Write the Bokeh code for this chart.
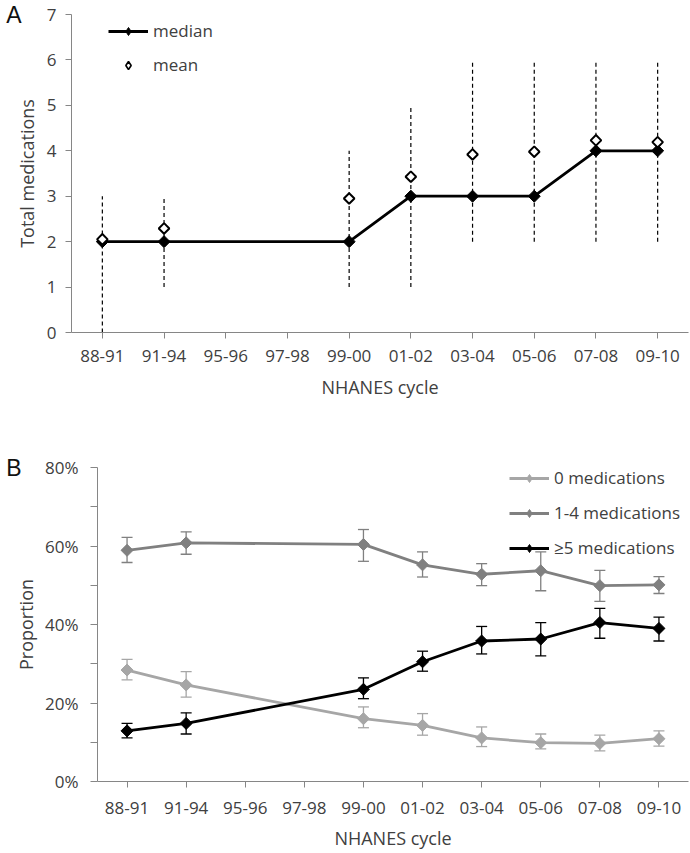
from bokeh.plotting import figure
from bokeh.models import (Range1d, FactorRange, FixedTicker, PrintfTickFormatter, Legend,
                          LegendItem, LinearAxis, Whisker, TeeHead, ColumnDataSource)
from bokeh.layouts import column
from bokeh.embed import file_html
from bokeh.resources import INLINE
import math

# ---------------- data ----------------
cycles = ["88-91", "91-94", "95-96", "97-98", "99-00", "01-02", "03-04", "05-06", "07-08", "09-10"]
data_cycles = ["88-91", "91-94", "99-00", "01-02", "03-04", "05-06", "07-08", "09-10"]

# Panel A: total medications
median_meds = [2, 2, 2, 3, 3, 3, 4, 4]
mean_meds = [2.05, 2.29, 2.95, 3.43, 3.92, 3.98, 4.23, 4.19]
iqr_low = [0, 1, 1, 1, 2, 2, 2, 2]
iqr_high = [3, 3, 4, 5, 6, 6, 6, 6]
a_yticks = [0, 1, 2, 3, 4, 5, 6, 7]

# Panel B: proportions (%)
zero_med = [28.4, 24.6, 16.0, 14.3, 11.1, 9.9, 9.7, 10.9]
zero_lo = [25.9, 21.5, 13.7, 11.8, 8.9, 8.3, 7.8, 9.0]
zero_hi = [31.1, 28.0, 19.0, 17.3, 13.9, 12.1, 11.8, 12.9]
mid_med = [58.9, 60.8, 60.4, 55.2, 52.8, 53.7, 49.9, 50.1]
mid_lo = [55.8, 57.9, 56.1, 52.1, 49.9, 48.6, 45.9, 47.9]
mid_hi = [62.2, 63.6, 64.2, 58.5, 55.5, 58.5, 53.8, 52.2]
five_med = [12.9, 14.8, 23.5, 30.5, 35.8, 36.3, 40.5, 39.0]
five_lo = [11.1, 12.1, 21.1, 28.1, 32.5, 32.0, 36.5, 35.8]
five_hi = [14.8, 17.5, 26.4, 33.2, 39.5, 40.5, 44.1, 41.9]
b_major = [0, 20, 40, 60, 80]
b_minor = [10, 30, 50, 70]

series_b = [
    ("0 medications", zero_med, zero_lo, zero_hi, "#a6a6a6"),
    ("1-4 medications", mid_med, mid_lo, mid_hi, "#808080"),
    ("\u22655 medications", five_med, five_lo, five_hi, "#000000"),
]

FONT = "Open Sans"
TXT = "#404040"
AX = "#868686"
ROT = math.pi / 4


def style_axes(p, ylab_standoff, ytick_standoff, xtick_standoff, xlab_standoff):
    for ax in (p.xaxis[0], p.yaxis[0]):
        ax.axis_line_color = AX
        ax.major_tick_line_color = AX
        ax.minor_tick_line_color = AX
        ax.major_tick_in = 0
        ax.major_tick_out = 6
        ax.minor_tick_in = 0
        ax.minor_tick_out = 6
        ax.major_label_text_font = FONT
        ax.major_label_text_font_size = "17px"
        ax.major_label_text_color = TXT
        ax.axis_label_text_font = FONT
        ax.axis_label_text_font_size = "18px"
        ax.axis_label_text_font_style = "normal"
        ax.axis_label_text_color = TXT
    p.xgrid.visible = False
    p.ygrid.visible = False
    p.outline_line_color = None
    p.xaxis.major_label_standoff = xtick_standoff
    p.xaxis.axis_label_standoff = xlab_standoff
    p.yaxis[0].major_label_standoff = ytick_standoff
    p.yaxis[0].axis_label_standoff = ylab_standoff
    if "frame_align" in p.properties():
        p.frame_align = False


def letter_axis(p, tick, letter, standoff):
    ax = LinearAxis(ticker=FixedTicker(ticks=[tick]), major_label_overrides={tick: letter},
                    axis_line_color=None, major_tick_line_color=None, minor_tick_line_color=None,
                    major_tick_in=0, major_tick_out=0, major_label_standoff=standoff,
                    major_label_text_font="Liberation Sans", major_label_text_font_size="23px",
                    major_label_text_color="#111111")
    p.add_layout(ax, "left")


def make_legend(items, loc, spacing):
    return Legend(items=items, location=loc, glyph_width=40, glyph_height=20, label_standoff=5,
                  spacing=spacing, padding=0, margin=0, border_line_color=None,
                  background_fill_alpha=0, inactive_fill_alpha=0,
                  label_text_font=FONT, label_text_font_size="17px", label_text_color=TXT)


def legend_key(p, x, y, **kw):
    # a diamond marker used only as the legend key (muted, so nothing is drawn in the plot)
    r = p.scatter(x=x, y=y, marker="diamond", muted_alpha=0, **kw)
    r.muted = True
    return r


# ---------------- Panel A ----------------
pA = figure(width=690, height=410, output_backend="svg", toolbar_location=None,
            x_range=FactorRange(factors=cycles, range_padding=0), y_range=Range1d(0, 7),
            min_border_left=71, min_border_right=2, min_border_top=14, min_border_bottom=78)
pA.yaxis.ticker = FixedTicker(ticks=a_yticks)
pA.xaxis.axis_label = "NHANES cycle"
pA.yaxis.axis_label = "Total medications"
style_axes(pA, 5, 9, 11, 10)
letter_axis(pA, 7, "A", -10)

pA.segment(x0=data_cycles, y0=iqr_low, x1=data_cycles, y1=iqr_high,
           line_color="black", line_width=1.2, line_dash="4 3")
med_line = pA.line(x=data_cycles, y=median_meds, line_color="black", line_width=2.8)
pA.scatter(x=data_cycles, y=median_meds, marker="square", angle=ROT, size=8.5,
           fill_color="black", line_color="black")
pA.scatter(x=data_cycles, y=mean_meds, marker="square", angle=ROT, size=7.5,
           fill_color="white", line_color="black", line_width=2)
key_med = legend_key(pA, data_cycles, median_meds, size=14, fill_color="black", line_color="black")
key_mean = legend_key(pA, data_cycles, mean_meds, size=13, fill_color="white",
                      line_color="black", line_width=1.6)

pA.add_layout(make_legend([LegendItem(label="median", renderers=[med_line, key_med]),
                           LegendItem(label="mean", renderers=[key_mean])], (37, 256), 11))

# ---------------- Panel B ----------------
pB = figure(width=690, height=442, output_backend="svg", toolbar_location=None,
            x_range=FactorRange(factors=cycles, range_padding=0), y_range=Range1d(0, 80),
            min_border_left=97, min_border_right=2, min_border_top=57, min_border_bottom=67)
pB.yaxis.ticker = FixedTicker(ticks=b_major, minor_ticks=b_minor)
pB.yaxis.formatter = PrintfTickFormatter(format="%d%%")
pB.xaxis.axis_label = "NHANES cycle"
pB.yaxis.axis_label = "Proportion"
style_axes(pB, 4, 12, 14, 9)
pB.yaxis[0].major_tick_out = 7
pB.yaxis[0].minor_tick_out = 7
letter_axis(pB, 80, "B", -10)

items = []
for name, vals, lo, hi, col in series_b:
    src = ColumnDataSource(dict(x=data_cycles, y=vals, lo=lo, hi=hi))
    w = Whisker(base="x", lower="lo", upper="hi", source=src, dimension="height",
                line_color=col, line_width=1.3,
                lower_head=TeeHead(size=11, line_color=col, line_width=1.3),
                upper_head=TeeHead(size=11, line_color=col, line_width=1.3))
    pB.add_layout(w)
    ln = pB.line(x="x", y="y", source=src, line_color=col, line_width=2.8)
    pB.scatter(x="x", y="y", source=src, marker="square", angle=ROT, size=8.5,
               fill_color=col, line_color=col)
    key = legend_key(pB, data_cycles, vals, size=13, fill_color=col, line_color=col)
    items.append(LegendItem(label=name, renderers=[ln, key]))

pB.add_layout(make_legend(items, (412, 222), 12))

layout = column(pA, pB)
open("out.html", "w").write(file_html(layout, INLINE))
